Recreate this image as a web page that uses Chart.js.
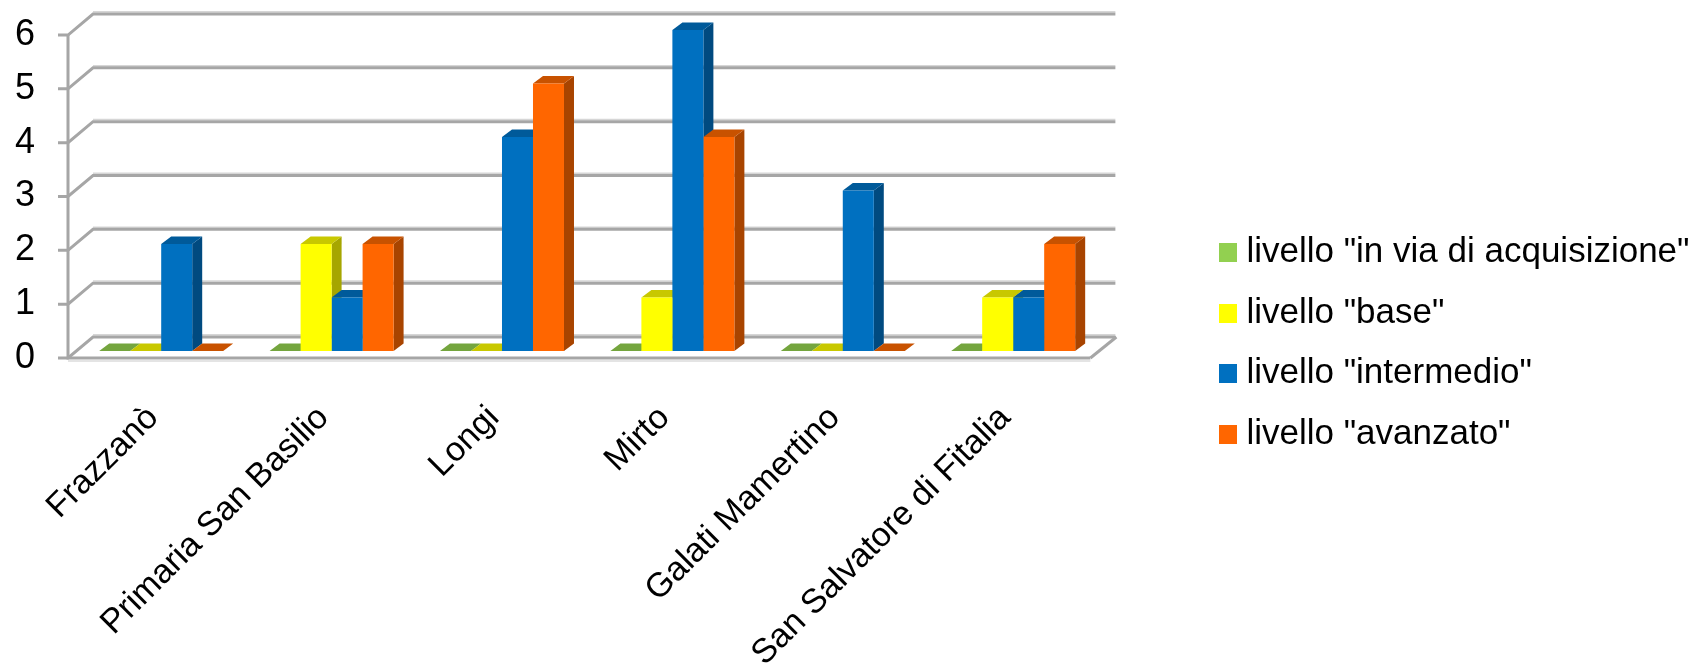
<!DOCTYPE html>
<html><head><meta charset="utf-8">
<style>html,body{margin:0;padding:0;background:#fff}#w{width:1691px;height:665px;position:relative}</style>
<script src="https://cdn.jsdelivr.net/npm/chart.js@4/dist/chart.umd.min.js"></script>
</head><body><div id="w"><canvas id="c"></canvas></div>
<script>
const categories = ["Frazzanò","Primaria San Basilio","Longi","Mirto","Galati Mamertino","San Salvatore di Fitalia"];
const seriesNames = ['livello "in via di acquisizione"','livello "base"','livello "intermedio"','livello "avanzato"'];
const viaDiAcquisizione = [0,0,0,0,0,0];
const base = [0,2,0,1,0,1];
const intermedio = [2,1,4,6,3,1];
const avanzato = [0,2,5,4,0,2];
const yTicks = [0,1,2,3,4,5,6];

const front = ['#92d050','#ffff00','#0070c0','#ff6600'];
const topFace = ['#74a53e','#c8c800','#005a9a','#c85200'];
const sideFace = ['#5f8632','#a6a600','#004a80','#a84400'];
const FONT = '"Liberation Sans", Arial, sans-serif';

function swatch(col){
  const s=document.createElement('canvas'); s.width=18; s.height=19;
  const g=s.getContext('2d'); g.fillStyle=col; g.fillRect(0,0,18,19); return s;
}
const swatches = front.map(swatch);

const GD = {dx:25, dy:21, inset:8};   // floor depth
const BD = {dx:10, dy:7.5};           // bar depth

const depthPlugin = {
  id:'depth',
  beforeDatasetsDraw(chart){
    const {ctx, chartArea:a, scales:{y}} = chart;
    const L=a.left-GD.inset, R=a.right-GD.inset;
    ctx.save();
    ctx.lineCap='butt';
    const y0=y.getPixelForValue(0);
    ctx.strokeStyle='#e4e4e4'; ctx.lineWidth=2;
    ctx.beginPath(); ctx.moveTo(L,y0+3); ctx.lineTo(R,y0+3); ctx.stroke();
    ctx.strokeStyle='#a6a6a6'; ctx.lineWidth=3;
    ctx.beginPath(); ctx.moveTo(R,y0); ctx.lineTo(R+GD.dx+1,y0-GD.dy); ctx.stroke();
    yTicks.forEach(v=>{
      const py=y.getPixelForValue(v);
      ctx.strokeStyle='#d6d6d6'; ctx.lineWidth=1.5;
      ctx.beginPath(); ctx.moveTo(L+GD.dx,py-GD.dy-2.2); ctx.lineTo(R+GD.dx,py-GD.dy-2.2); ctx.stroke();
      ctx.strokeStyle='#a6a6a6'; ctx.lineWidth=3;
      ctx.beginPath();
      ctx.moveTo(L-10,py); ctx.lineTo(L,py); ctx.lineTo(L+GD.dx,py-GD.dy); ctx.lineTo(R+GD.dx,py-GD.dy);
      ctx.stroke();
    });
    ctx.beginPath();
    ctx.moveTo(L,y.getPixelForValue(6)); ctx.lineTo(L,y0); ctx.lineTo(R,y0);
    ctx.stroke();
    // side and top faces, painted left to right; the library's front faces go on top
    chart.data.datasets.forEach((d,i)=>{
      chart.getDatasetMeta(i).data.forEach(b=>{
        const {x,y:t,base:bs,width}=b.getProps(['x','y','base','width'],true);
        const l=x-width/2, r=x+width/2;
        ctx.fillStyle=sideFace[i];
        ctx.beginPath(); ctx.moveTo(r,t); ctx.lineTo(r+BD.dx,t-BD.dy); ctx.lineTo(r+BD.dx,bs-BD.dy); ctx.lineTo(r,bs); ctx.closePath(); ctx.fill();
        ctx.fillStyle=topFace[i];
        ctx.beginPath(); ctx.moveTo(l,t); ctx.lineTo(l+BD.dx,t-BD.dy); ctx.lineTo(r+BD.dx,t-BD.dy); ctx.lineTo(r,t); ctx.closePath(); ctx.fill();
      });
    });
    ctx.restore();
  }
};

const values=[viaDiAcquisizione,base,intermedio,avanzato];
new Chart(document.getElementById('c'),{
  type:'bar',
  data:{labels:categories,datasets:seriesNames.map((n,i)=>({
    label:n,data:values[i],yAxisID:'y2',backgroundColor:front[i],borderWidth:0,
    pointStyle:swatches[i],
    categoryPercentage:0.7277,barPercentage:1
  }))},
  options:{
    responsive:true,maintainAspectRatio:false,animation:false,
    layout:{padding:{top:22,right:-8.5,left:0,bottom:0}},
    plugins:{
      tooltip:{enabled:false},
      legend:{position:'right',align:'center',maxWidth:560,
        labels:{color:'#000',font:{family:FONT,size:35},usePointStyle:true,pointStyleWidth:1,boxHeight:19,padding:25.5}}
    },
    scales:{
      x:{grid:{display:false},border:{display:false},
        afterFit(s){s.height=307},
        ticks:{autoSkip:false,minRotation:45,maxRotation:45,color:'#000',padding:32,labelOffset:-8,font:{family:FONT,size:34}}},
      y:{position:'left',min:0,max:6.242,border:{display:false},grid:{display:false,drawTicks:false},
        afterFit(s){s.width=76;s.paddingTop=0;s.paddingBottom=0},
        afterBuildTicks(s){s.ticks=yTicks.map(v=>({value:v}))},
        ticks:{color:'#000',padding:41,font:{family:FONT,size:36}}},
      y2:{position:'right',min:-0.1308,max:6.15,display:true,border:{display:false},grid:{display:false,drawTicks:false},
        afterFit(s){s.width=104;s.paddingTop=0;s.paddingBottom=0},
        ticks:{display:false}}
    }
  },
  plugins:[depthPlugin]
});
</script></body></html>
